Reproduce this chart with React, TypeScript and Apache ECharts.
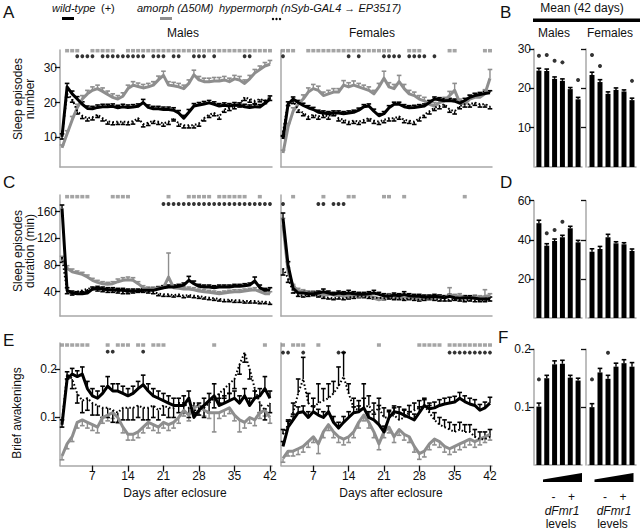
import React, { useEffect, useRef } from 'react';
import * as echarts from 'echarts';

const days = Array.from({ length: 42 }, (_, i) => i + 1);
const dayTicks = [7, 14, 21, 28, 35, 42];
const barCats = ['1', '2', '3', '4', '5', '6'];

// ---------- Panel A : sleep episodes number ----------
const aMaleWT = [10.2,24.5,22.5,21.0,19.5,18.3,18.2,18.6,18.8,18.8,18.9,18.5,18.8,18.6,18.7,18.9,20.0,18.6,18.2,18.2,18.0,18.0,17.8,17.0,15.5,17.2,19.0,19.3,19.6,19.9,19.5,19.0,19.2,19.0,19.3,19.2,18.8,18.6,18.8,18.7,19.8,21.0];
const aMaleWTErr = [0.8,1.0,0.8,0.7,0.7,0.7,0.7,0.7,0.7,0.7,0.7,0.7,0.7,0.7,0.7,0.7,0.9,0.7,0.7,0.7,0.7,0.7,0.7,0.7,0.8,0.8,0.7,0.7,0.7,0.7,0.7,0.7,0.7,0.7,0.7,0.7,0.7,0.7,0.7,0.7,0.8,0.9];
const aMaleAm = [7.0,11.0,15.0,18.5,21.0,22.5,23.5,24.0,23.2,22.3,21.5,21.0,21.8,24.0,25.0,24.6,24.2,24.5,25.0,26.5,27.8,25.0,24.8,24.5,24.0,25.5,28.0,26.5,26.0,26.0,26.2,26.2,26.5,26.0,26.8,26.5,25.5,26.8,28.5,29.5,30.5,31.0];
const aMaleAmErr = [0.8,0.9,1.0,1.0,1.0,1.0,1.0,1.0,1.0,1.0,1.0,1.0,1.0,1.0,1.0,1.0,1.0,1.0,1.0,1.1,1.2,1.0,1.0,1.0,1.0,1.0,1.3,1.0,1.0,1.0,1.0,1.0,1.0,1.0,1.0,1.0,1.0,1.0,1.0,1.0,1.0,1.1];
const aMaleHy = [10.5,22.5,21.0,17.5,16.2,15.5,15.8,16.5,15.5,14.6,14.4,14.5,14.5,14.4,14.6,15.5,13.8,14.2,14.8,14.5,14.0,14.5,15.5,14.0,13.5,13.5,13.5,14.0,15.5,16.5,17.0,16.0,18.0,18.5,19.0,19.5,21.5,21.0,20.5,21.0,20.5,21.5];
const aMaleHyErr = [1.0,1.0,0.9,0.8,0.8,0.8,0.8,0.8,0.8,0.8,0.8,0.8,0.8,0.8,0.8,0.8,0.8,0.8,0.8,0.8,0.8,0.8,0.8,0.8,0.8,0.8,0.8,0.8,0.8,0.8,0.8,0.8,0.8,0.8,0.8,0.8,0.9,0.9,0.8,0.8,0.8,0.9];
const aFemWT = [9.5,19.5,21.0,20.0,19.2,18.5,18.0,17.2,17.0,16.8,17.0,17.0,16.8,17.0,17.2,17.8,18.8,19.0,17.5,16.2,16.8,18.5,19.5,19.5,18.8,18.5,18.6,18.8,19.0,20.0,21.0,20.8,20.5,20.6,20.4,19.8,20.6,21.5,22.0,22.3,22.6,22.8];
const aFemWTErr = [0.8,0.7,0.6,0.6,0.6,0.6,0.6,0.6,0.6,0.6,0.6,0.6,0.6,0.6,0.6,0.6,0.6,0.6,0.6,0.6,0.6,0.6,0.6,0.6,0.6,0.6,0.6,0.6,0.6,0.6,0.6,0.6,0.6,0.6,0.6,0.6,0.6,0.6,0.6,0.6,0.6,0.6];
const aFemAm = [5.5,13.0,17.5,19.5,21.0,23.0,24.0,23.5,22.0,22.5,23.0,23.0,25.0,24.5,25.0,24.5,24.0,23.5,22.5,24.5,27.0,24.5,24.0,26.0,24.0,22.5,22.0,21.0,20.5,19.5,19.0,20.0,20.5,22.0,23.5,20.0,19.5,21.0,21.5,21.5,22.5,27.0];
const aFemAmErr = [0.8,1.0,1.0,1.0,1.2,1.2,1.2,1.2,1.0,1.0,1.0,1.0,1.3,1.2,1.2,1.0,1.0,1.0,1.0,1.0,2.0,1.2,1.2,1.8,1.2,1.0,1.0,1.0,1.0,1.0,1.0,1.0,1.0,1.2,2.0,1.0,1.0,1.2,1.2,1.2,1.2,2.5];
const aFemHy = [11.5,20.0,20.5,18.0,17.0,16.0,16.5,16.0,16.5,16.0,17.0,15.5,15.0,14.5,14.8,14.5,15.0,15.5,14.8,14.5,15.0,15.5,15.5,16.0,15.0,14.8,14.5,15.5,16.5,17.5,18.5,19.0,19.5,18.0,17.5,19.0,19.5,19.5,20.0,19.5,19.5,19.0];
const aFemHyErr = [1.0,0.9,0.8,0.8,0.8,0.8,0.8,0.8,0.8,0.8,0.8,0.8,0.8,0.8,0.8,0.8,0.8,0.8,0.8,0.8,0.8,0.8,0.8,0.8,0.8,0.8,0.8,0.8,0.8,0.8,0.8,0.8,0.8,0.8,0.8,0.8,0.8,0.8,0.8,0.8,0.8,0.8];
const aMaleSqDays = [2,3,4,7,8,9,10,11,14,15,16,17,18,19,20,21,22,23,24,25,26,27,28,29,30,31,32,33,34,35,36,37,38,39,40,41,42];
const aMaleDotDays = [4,5,6,7,9,10,11,12,13,14,15,16,17,19,20,21,23,24,27,28,29,31,37,38];
const aFemSqDays = [1,2,3,6,7,8,9,10,11,12,13,14,15,16,17,18,19,20,21,22,26,27,28,34,35,41,42];
const aFemDotDays = [1,14,16,21,22,23,24,26,27,28,29,31];

// ---------- Panel C : sleep episode duration (min) ----------
const cMaleWT = [165,42,38,37,37,38,44,45,44,43,43,42,42,41,41,41,42,42,42,44,46,47,47,48,50,57,52,48,47,47,46,47,47,47,48,48,49,50,56,46,42,43];
const cMaleWTErr = [5,4,3,3,3,3,3,3,3,3,3,3,3,3,3,3,3,3,3,3,3,3,3,3,3,6,4,3,3,3,3,3,3,3,3,3,3,3,6,4,3,3];
const cMaleAm = [88,75,70,68,66,62,57,54,52,51,52,55,57,58,57,52,46,44,44,45,46,62,46,45,44,44,43,41,40,39,38,37,38,39,40,40,41,42,43,40,37,37];
const cMaleAmErr = [5,4,4,3,3,3,3,3,3,3,3,4,4,4,4,3,3,3,3,3,3,36,4,3,3,3,3,3,3,3,3,3,3,3,3,3,3,3,3,3,3,3];
const cMaleHy = [92,40,38,40,42,44,46,44,43,42,42,41,40,40,41,42,42,41,40,37,36,36,35,36,34,35,34,33,32,31,30,29,28,28,27,27,26,26,26,25,25,24];
const cMaleHyErr = [8,3,3,3,3,3,3,3,3,3,3,3,3,3,3,3,3,3,3,3,3,3,3,3,3,3,3,3,3,3,3,3,3,3,3,3,3,3,3,3,3,3];
const cFemWT = [150,80,45,38,38,37,37,38,40,38,36,38,37,38,37,36,36,37,38,36,34,33,35,34,36,34,33,33,32,32,33,32,31,33,31,30,31,31,30,29,29,29];
const cFemWTErr = [8,5,3,3,3,3,3,3,4,3,3,3,3,4,3,3,3,3,4,3,3,3,3,3,4,3,3,3,3,3,3,3,3,3,3,3,3,3,3,3,3,3];
const cFemAm = [140,70,48,42,40,38,38,36,34,36,35,34,34,32,34,33,34,35,30,28,30,34,33,31,32,31,30,29,30,31,30,32,31,35,33,34,31,30,32,31,33,34];
const cFemAmErr = [10,6,3,3,3,3,3,3,3,3,3,3,3,3,3,3,3,3,3,3,3,3,3,3,3,3,3,3,3,3,3,3,3,11,3,3,3,3,3,3,10,3];
const cFemHy = [75,60,40,35,34,35,36,34,32,31,30,31,30,31,32,33,33,32,31,31,30,31,30,30,29,30,29,28,29,30,29,28,28,28,29,28,27,28,27,27,27,28];
const cFemHyErr = [10,6,2,2,2,2,2,2,2,2,2,2,2,2,2,2,2,2,2,2,2,2,2,2,2,2,2,2,2,2,2,2,2,2,2,2,2,2,2,2,2,2];
const cMaleSqDays = [2,3,4,5,6,11,12,13,14,22,26,27,28,29,30,32,33,34,35,36,37,40];
const cMaleDotDays = [21,22,23,24,25,26,27,28,29,30,31,32,33,34,35,36,37,38,39,40,41,42];
const cFemSqDays = [3,9,14,15,21,22,25,37];
const cFemDotDays = [1,8,9,11,12,13];

// ---------- Panel E : brief awakenings ----------
const eMaleWT = [0.085,0.18,0.19,0.185,0.19,0.16,0.145,0.14,0.15,0.165,0.155,0.155,0.15,0.145,0.15,0.16,0.168,0.155,0.145,0.14,0.135,0.13,0.125,0.125,0.125,0.14,0.10,0.115,0.125,0.135,0.145,0.125,0.13,0.135,0.14,0.13,0.145,0.125,0.14,0.145,0.16,0.14];
const eMaleWTErr = [0.01,0.015,0.012,0.012,0.015,0.015,0.015,0.015,0.015,0.02,0.015,0.015,0.015,0.015,0.015,0.015,0.02,0.015,0.015,0.015,0.015,0.015,0.015,0.015,0.02,0.015,0.015,0.015,0.015,0.015,0.025,0.015,0.015,0.015,0.015,0.015,0.015,0.015,0.015,0.015,0.025,0.015];
const eMaleAm = [0.02,0.045,0.06,0.09,0.095,0.09,0.085,0.08,0.10,0.105,0.11,0.10,0.08,0.065,0.065,0.07,0.08,0.09,0.085,0.08,0.09,0.085,0.09,0.10,0.115,0.105,0.12,0.125,0.115,0.11,0.11,0.11,0.115,0.12,0.105,0.095,0.09,0.10,0.095,0.11,0.115,0.10];
const eMaleAmErr = [0.008,0.01,0.01,0.012,0.012,0.012,0.012,0.012,0.012,0.012,0.012,0.012,0.012,0.012,0.012,0.012,0.012,0.012,0.012,0.012,0.012,0.012,0.012,0.012,0.012,0.012,0.012,0.012,0.012,0.012,0.04,0.012,0.012,0.012,0.012,0.025,0.012,0.012,0.012,0.012,0.012,0.012];
const eMaleHy = [0.09,0.19,0.18,0.15,0.135,0.14,0.13,0.125,0.12,0.12,0.115,0.11,0.12,0.12,0.12,0.125,0.12,0.12,0.125,0.115,0.125,0.12,0.12,0.13,0.13,0.12,0.13,0.125,0.12,0.13,0.14,0.15,0.16,0.17,0.18,0.21,0.235,0.20,0.16,0.13,0.115,0.13];
const eMaleHyErr = [0.01,0.01,0.02,0.02,0.025,0.025,0.025,0.02,0.02,0.02,0.025,0.02,0.025,0.025,0.025,0.025,0.025,0.025,0.025,0.02,0.02,0.02,0.02,0.02,0.02,0.02,0.02,0.02,0.02,0.02,0.02,0.02,0.02,0.02,0.02,0.02,0.02,0.02,0.02,0.02,0.02,0.02];
const eFemWT = [0.04,0.08,0.095,0.11,0.112,0.10,0.112,0.105,0.10,0.112,0.09,0.078,0.09,0.10,0.11,0.112,0.12,0.10,0.095,0.085,0.07,0.10,0.112,0.11,0.105,0.10,0.095,0.11,0.125,0.118,0.12,0.125,0.128,0.13,0.132,0.14,0.133,0.128,0.125,0.115,0.12,0.13];
const eFemWTErr = [0.01,0.012,0.012,0.012,0.012,0.012,0.012,0.012,0.012,0.012,0.012,0.012,0.012,0.012,0.012,0.012,0.05,0.012,0.012,0.04,0.012,0.012,0.012,0.012,0.012,0.012,0.012,0.012,0.012,0.012,0.012,0.012,0.012,0.012,0.012,0.012,0.012,0.012,0.012,0.012,0.012,0.012];
const eFemAm = [0.015,0.03,0.03,0.035,0.04,0.05,0.06,0.045,0.07,0.085,0.07,0.06,0.055,0.06,0.07,0.09,0.105,0.09,0.07,0.045,0.07,0.08,0.06,0.075,0.065,0.06,0.04,0.025,0.03,0.045,0.055,0.05,0.04,0.035,0.04,0.045,0.05,0.055,0.05,0.055,0.06,0.065];
const eFemAmErr = [0.008,0.01,0.01,0.012,0.012,0.012,0.012,0.02,0.012,0.012,0.012,0.012,0.012,0.012,0.012,0.012,0.012,0.012,0.012,0.012,0.012,0.012,0.012,0.012,0.012,0.012,0.012,0.012,0.012,0.012,0.012,0.012,0.012,0.012,0.012,0.012,0.012,0.012,0.012,0.012,0.012,0.012];
const eFemHy = [0.065,0.085,0.11,0.15,0.18,0.13,0.12,0.13,0.135,0.14,0.15,0.165,0.185,0.15,0.12,0.115,0.12,0.125,0.11,0.12,0.10,0.10,0.105,0.095,0.10,0.11,0.115,0.12,0.125,0.11,0.095,0.085,0.08,0.075,0.07,0.075,0.07,0.07,0.06,0.055,0.055,0.06];
const eFemHyErr = [0.01,0.01,0.02,0.03,0.045,0.02,0.02,0.04,0.025,0.03,0.025,0.04,0.05,0.02,0.02,0.02,0.02,0.02,0.02,0.02,0.02,0.015,0.015,0.015,0.015,0.015,0.015,0.015,0.015,0.015,0.015,0.015,0.015,0.015,0.015,0.015,0.015,0.015,0.015,0.015,0.015,0.015];
const eMaleSqDays = [1,2,3,4,5,6,10,12,13,14,16,17,19,20,21,31,41];
const eMaleDotDays = [10,11,17];
const eFemSqDays = [1,3,4,5,8,20,28,29,30,31,32,34,35,36,37,38,39,40,41,42];
const eFemDotDays = [1,2,5,12,13,34,35,36,37,38,39,40,41,42];

// ---------- Panels B, D, F : means over 42 days ----------
const bMale = [24.5,24.4,22.4,21.9,19.8,17.2];
const bMaleErr = [0.6,0.5,0.5,0.5,0.4,0.5];
const bFem = [23.4,21.6,18.6,19.6,19.2,17.0];
const bFemErr = [0.7,0.6,0.5,0.5,0.4,0.5];
const bMaleSigIdx = [0,1,2,3,5];
const bMaleSigY = [28.3,28.5,27.0,26.6,22.1];
const bFemSigIdx = [0,1,5];
const bFemSigY = [28.5,25.7,21.9];
const dMale = [48.5,37.0,39.4,41.3,45.9,38.7];
const dMaleErr = [1.5,1.0,1.0,1.0,1.0,1.0];
const dFem = [33.9,35.3,41.3,38.2,37.7,34.3];
const dFemErr = [1.5,1.3,1.5,0.8,0.8,1.0];
const dMaleSigIdx = [1,2,3];
const dMaleSigY = [43.3,45.0,49.2];
const fMale = [0.101,0.150,0.174,0.175,0.151,0.146];
const fMaleErr = [0.006,0.005,0.006,0.006,0.004,0.004];
const fFem = [0.100,0.160,0.149,0.170,0.176,0.170];
const fFemErr = [0.006,0.007,0.006,0.006,0.006,0.007];
const fMaleSigIdx = [0];
const fMaleSigY = [0.148];
const fFemSigIdx = [0,2];
const fFemSigY = [0.148,0.194];

const FONT = "'Liberation Sans', Arial, Helvetica, sans-serif";
const GRAY = '#8e8e8e';
const AXIS_GRAY = '#a8a8a8';
const INK = '#111';

function errSeries(idx: number, data: number[][], dir: number, color: string, z: number) {
  return {
    type: 'custom', xAxisIndex: idx, yAxisIndex: idx, z, silent: true,
    data, encode: { x: 0, y: 1 },
    renderItem: (params: any, api: any) => {
      const x = api.value(0), y = api.value(1), e = api.value(2);
      const p0 = api.coord([x, y]);
      const p1 = api.coord([x, y + dir * e]);
      return {
        type: 'group',
        children: [
          { type: 'line', shape: { x1: p0[0], y1: p0[1], x2: p1[0], y2: p1[1] }, style: { stroke: color, lineWidth: 1.4 } },
          { type: 'line', shape: { x1: p1[0] - 2.3, y1: p1[1], x2: p1[0] + 2.3, y2: p1[1] }, style: { stroke: color, lineWidth: 1.6 } },
        ],
      };
    },
  };
}

function tsErr(idx: number, vals: number[], errs: number[], dir: number, color: string, z: number) {
  return errSeries(idx, vals.map((v, i) => [days[i], v, errs[i]]), dir, color, z);
}

function tsLine(idx: number, vals: number[], color: string, width: number, dotted: boolean, z: number) {
  return {
    type: 'line', xAxisIndex: idx, yAxisIndex: idx, z, silent: true,
    data: vals.map((v, i) => [days[i], v]),
    symbol: 'none',
    lineStyle: { color, width, type: dotted ? [1.6, 2.2] : 'solid', join: 'round' },
  };
}

function sig(idx: number, dl: number[], y: number, square: boolean) {
  return {
    type: 'scatter', xAxisIndex: idx, yAxisIndex: idx, z: 6, silent: true, clip: false,
    data: dl.map((d) => [d, y]),
    symbol: square ? 'rect' : 'circle',
    symbolSize: square ? [4, 3.5] : 3.8,
    itemStyle: { color: square ? GRAY : '#000' },
  };
}

function tsPanel(idx: number, wt: number[], wtE: number[], am: number[], amE: number[], amDir: number, hy: number[], hyE: number[], hyDir: number) {
  return [
    tsErr(idx, am, amE, amDir, GRAY, 2),
    tsErr(idx, hy, hyE, hyDir, '#000', 2),
    tsErr(idx, wt, wtE, 1, '#000', 2),
    tsLine(idx, am, GRAY, 3, false, 3),
    tsLine(idx, hy, '#000', 2, true, 4),
    tsLine(idx, wt, '#000', 3, false, 5),
  ];
}

function barPanel(idx: number, vals: number[], errs: number[], sIdx: number[], sY: number[]) {
  return [
    { type: 'bar', xAxisIndex: idx, yAxisIndex: idx, data: vals, barWidth: 5, itemStyle: { color: '#000' }, silent: true, z: 2 },
    errSeries(idx, vals.map((v, i) => [i, v, errs[i]]), 1, '#000', 3),
    { type: 'scatter', xAxisIndex: idx, yAxisIndex: idx, data: sIdx.map((c, i) => [c, sY[i]]), symbol: 'circle', symbolSize: 4, itemStyle: { color: '#000' }, silent: true, clip: false, z: 4 },
  ];
}

const tsX = (gi: number, labels: boolean) => ({
  gridIndex: gi, type: 'value', min: 0.6, max: 42.4,
  axisLine: { show: true, onZero: false, lineStyle: { color: AXIS_GRAY, width: 1.5 } },
  axisTick: { show: labels, customValues: dayTicks, length: 6, lineStyle: { color: INK, width: 1.3 } },
  axisLabel: { show: labels, customValues: dayTicks, fontSize: 12, color: INK, fontFamily: FONT, margin: 4 },
  splitLine: { show: false },
});

const valY = (gi: number, min: number, max: number, ticks: number[], ticksOn: boolean, labels: boolean, offset = 0) => ({
  gridIndex: gi, type: 'value', min, max, offset,
  axisLine: { show: true, onZero: false, lineStyle: { color: AXIS_GRAY, width: 1.5 } },
  axisTick: { show: ticksOn, customValues: ticks, length: 5, lineStyle: { color: INK, width: 1.3 } },
  axisLabel: { show: labels, customValues: ticks, fontSize: 12, color: INK, fontFamily: FONT, margin: 3 },
  splitLine: { show: false },
});

const catX = (gi: number) => ({
  gridIndex: gi, type: 'category', data: barCats,
  axisLine: { show: true, onZero: false, lineStyle: { color: AXIS_GRAY, width: 1.5 } },
  axisTick: { show: false }, axisLabel: { show: false }, splitLine: { show: false },
});

function txt(x: number, y: number, text: string, extra: any = {}) {
  return { type: 'text', x, y, silent: true, style: { text, fontSize: 12, fontFamily: FONT, fill: INK, align: 'left', verticalAlign: 'middle', ...extra } };
}
function rtxt(x: number, y: number, text: string, extra: any = {}) {
  return { type: 'text', x, y, rotation: Math.PI / 2, silent: true, style: { text, fontSize: 12, fontFamily: FONT, fill: INK, align: 'center', verticalAlign: 'middle', lineHeight: 12, ...extra } };
}

export default function App() {
  const ref = useRef<HTMLDivElement>(null);
  useEffect(() => {
    if (!ref.current) return;
    const chart = echarts.init(ref.current, undefined, { renderer: 'svg' });

    const A_MIN = 1.47, A_MAX = 35.1;
    const C_MIN = 3.55, C_MAX = 185;
    const E_MIN = 0, E_MAX = 0.2548;

    const grid = [
      { left: 60, top: 50, width: 212, height: 117 },
      { left: 281, top: 50, width: 211, height: 117 },
      { left: 535, top: 49, width: 47, height: 118 },
      { left: 588, top: 49, width: 48, height: 118 },
      { left: 60, top: 195, width: 212, height: 121 },
      { left: 281, top: 195, width: 211, height: 121 },
      { left: 535, top: 200.7, width: 47, height: 117.3 },
      { left: 588, top: 200.7, width: 48, height: 117.3 },
      { left: 60, top: 343, width: 212, height: 122.6 },
      { left: 281, top: 343, width: 211, height: 122.6 },
      { left: 535, top: 349.3, width: 47, height: 115.7 },
      { left: 588, top: 349.3, width: 48, height: 115.7 },
    ];

    const xAxis = [
      tsX(0, false), tsX(1, false), catX(2), catX(3),
      tsX(4, false), tsX(5, false), catX(6), catX(7),
      tsX(8, true), tsX(9, true), catX(10), catX(11),
    ];
    const yAxis = [
      valY(0, A_MIN, A_MAX, [10, 20, 30], true, true),
      valY(1, A_MIN, A_MAX, [10, 20, 30], false, false),
      valY(2, 0, 30, [10, 20, 30], true, true, 1),
      valY(3, 0, 30, [10, 20, 30], true, false, 2),
      valY(4, C_MIN, C_MAX, [40, 80, 120, 160], true, true),
      valY(5, C_MIN, C_MAX, [40, 80, 120, 160], false, false),
      valY(6, 0, 60, [20, 40, 60], true, true, 1),
      valY(7, 0, 60, [20, 40, 60], true, false, 2),
      valY(8, E_MIN, E_MAX, [0.1, 0.2], true, true),
      valY(9, E_MIN, E_MAX, [0.1, 0.2], false, false),
      valY(10, 0, 0.2, [0.1, 0.2], true, true, 1),
      valY(11, 0, 0.2, [0.1, 0.2], true, false, 2),
    ];

    const series: any[] = [
      ...tsPanel(0, aMaleWT, aMaleWTErr, aMaleAm, aMaleAmErr, 1, aMaleHy, aMaleHyErr, -1),
      ...tsPanel(1, aFemWT, aFemWTErr, aFemAm, aFemAmErr, 1, aFemHy, aFemHyErr, -1),
      sig(0, aMaleSqDays, 34.9, true), sig(0, aMaleDotDays, 33.3, false),
      sig(1, aFemSqDays, 34.9, true), sig(1, aFemDotDays, 33.3, false),
      ...barPanel(2, bMale, bMaleErr, bMaleSigIdx, bMaleSigY),
      ...barPanel(3, bFem, bFemErr, bFemSigIdx, bFemSigY),
      ...tsPanel(4, cMaleWT, cMaleWTErr, cMaleAm, cMaleAmErr, 1, cMaleHy, cMaleHyErr, -1),
      ...tsPanel(5, cFemWT, cFemWTErr, cFemAm, cFemAmErr, 1, cFemHy, cFemHyErr, -1),
      sig(4, cMaleSqDays, 182.5, true), sig(4, cMaleDotDays, 171.5, false),
      sig(5, cFemSqDays, 182.5, true), sig(5, cFemDotDays, 171.5, false),
      ...barPanel(6, dMale, dMaleErr, dMaleSigIdx, dMaleSigY),
      ...barPanel(7, dFem, dFemErr, [], []),
      ...tsPanel(8, eMaleWT, eMaleWTErr, eMaleAm, eMaleAmErr, -1, eMaleHy, eMaleHyErr, -1),
      ...tsPanel(9, eFemWT, eFemWTErr, eFemAm, eFemAmErr, -1, eFemHy, eFemHyErr, 1),
      sig(8, eMaleSqDays, 0.2506, true), sig(8, eMaleDotDays, 0.2367, false),
      sig(9, eFemSqDays, 0.2506, true), sig(9, eFemDotDays, 0.2350, false),
      ...barPanel(10, fMale, fMaleErr, fMaleSigIdx, fMaleSigY),
      ...barPanel(11, fFem, fFemErr, fFemSigIdx, fFemSigY),
    ];

    const big = { fontSize: 17 };
    const leg = { fontSize: 11, fontStyle: 'italic' };
    const graphic: any[] = [
      txt(3, 12, 'A', big), txt(500, 12, 'B', big), txt(3, 182, 'C', big), txt(500, 182, 'D', big),
      txt(3, 340, 'E', big), txt(498, 337, 'F', big),
      // legend
      txt(52, 8, 'wild-type', leg),
      txt(101, 8, '(+)', { fontSize: 11 }),
      txt(137, 8, 'amorph (Δ50M)', leg),
      txt(219, 8, 'hypermorph (nSyb-GAL4 → EP3517)', leg),
      { type: 'rect', silent: true, shape: { x: 62, y: 17, width: 12, height: 3 }, style: { fill: '#000' } },
      { type: 'rect', silent: true, shape: { x: 160, y: 17, width: 12, height: 3 }, style: { fill: GRAY } },
      { type: 'circle', silent: true, shape: { cx: 273, cy: 19, r: 1.2 }, style: { fill: '#000' } },
      { type: 'circle', silent: true, shape: { cx: 276.5, cy: 19, r: 1.2 }, style: { fill: '#000' } },
      { type: 'circle', silent: true, shape: { cx: 280, cy: 19, r: 1.2 }, style: { fill: '#000' } },
      txt(183, 33, 'Males', { align: 'center' }),
      txt(372, 33, 'Females', { align: 'center' }),
      txt(582, 8, 'Mean (42 days)', { align: 'center' }),
      { type: 'rect', silent: true, shape: { x: 533, y: 18.5, width: 107, height: 3.5 }, style: { fill: '#000' } },
      txt(554, 33, 'Males', { align: 'center' }),
      txt(610, 33, 'Females', { align: 'center' }),
      // axis titles
      rtxt(23.5, 99, 'Sleep episodes\nnumber'),
      rtxt(23.5, 251, 'Sleep episodes\nduration (min)'),
      rtxt(17, 413, 'Brief awakenings'),
      txt(175, 493, 'Days after eclosure', { align: 'center' }),
      txt(391, 493, 'Days after eclosure', { align: 'center' }),
      // dFmr1 wedges
      { type: 'polygon', silent: true, shape: { points: [[543, 479.5], [582, 473], [582, 482], [543, 482]] }, style: { fill: '#000' } },
      { type: 'polygon', silent: true, shape: { points: [[594.5, 479.5], [633.5, 473], [633.5, 482], [594.5, 482]] }, style: { fill: '#000' } },
      txt(553.5, 497, '-', { align: 'center' }), txt(571.5, 497, '+', { align: 'center' }),
      txt(605, 497, '-', { align: 'center' }), txt(623, 497, '+', { align: 'center' }),
      txt(562, 511, 'dFmr1', { align: 'center', fontStyle: 'italic' }),
      txt(614, 511, 'dFmr1', { align: 'center', fontStyle: 'italic' }),
      txt(561, 523.5, 'levels', { align: 'center' }),
      txt(612.5, 523.5, 'levels', { align: 'center' }),
    ];

    chart.setOption({
      animation: false,
      backgroundColor: '#fff',
      textStyle: { fontFamily: FONT },
      grid, xAxis, yAxis, series, graphic,
    });
    return () => chart.dispose();
  }, []);

  return <div ref={ref} style={{ position: 'absolute', left: 0, top: 0, width: 640, height: 531 }} />;
}
